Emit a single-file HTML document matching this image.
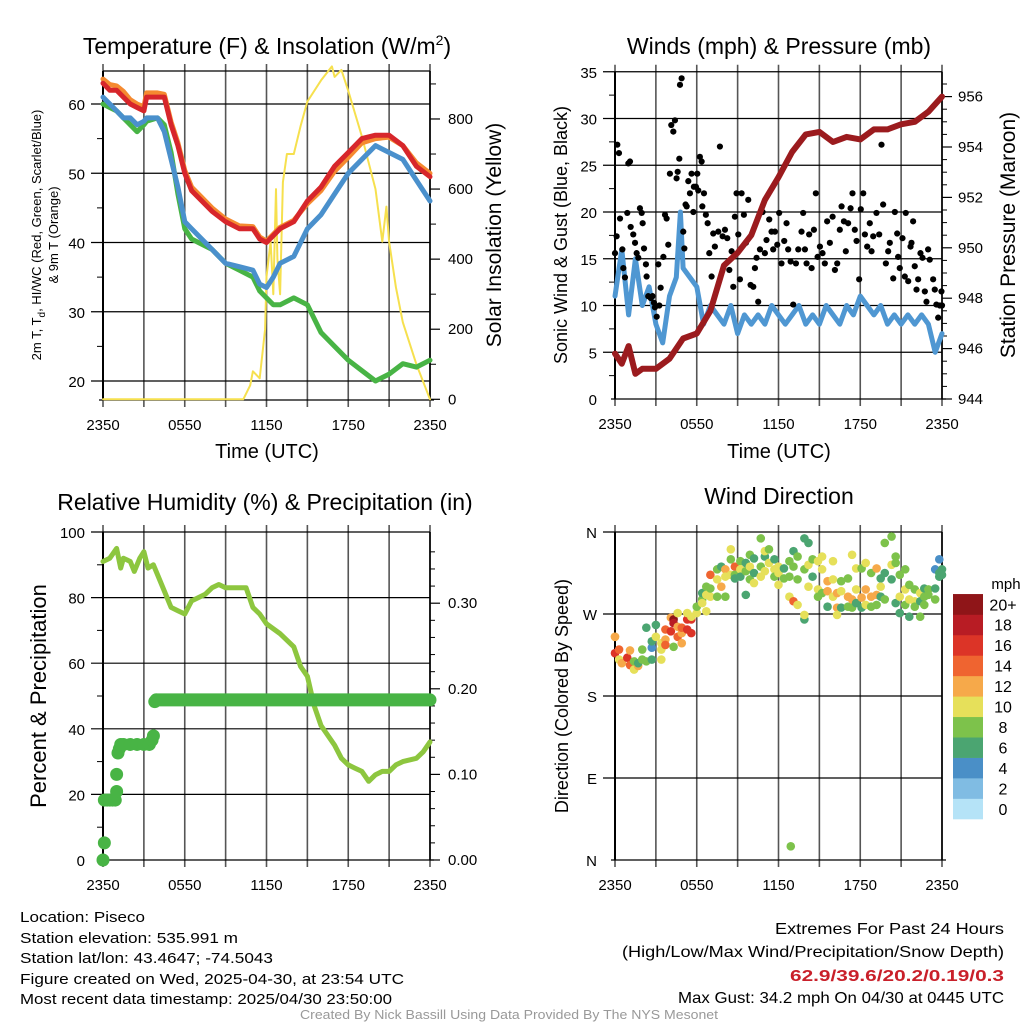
<!DOCTYPE html>
<html><head><meta charset="utf-8"><style>
html,body{margin:0;padding:0;background:#fff}
svg{display:block;font-family:"Liberation Sans",Arial,sans-serif}
</style></head><body>
<svg id="fig" width="1024" height="1024" viewBox="0 0 1024 1024" xmlns="http://www.w3.org/2000/svg">
<rect width="1024" height="1024" fill="#fff"/>
<g id="p1"></g>
<g id="p2"></g>
<g id="p3"></g>
<g id="p4"></g>
<g font-size="15" fill="#000">
<text x="20" y="922" textLength="125" lengthAdjust="spacingAndGlyphs">Location: Piseco</text>
<text x="20" y="943" textLength="218" lengthAdjust="spacingAndGlyphs">Station elevation: 535.991 m</text>
<text x="20" y="963" textLength="253" lengthAdjust="spacingAndGlyphs">Station lat/lon: 43.4647; -74.5043</text>
<text x="20" y="984" textLength="384" lengthAdjust="spacingAndGlyphs">Figure created on Wed, 2025-04-30, at 23:54 UTC</text>
<text x="20" y="1004" textLength="372" lengthAdjust="spacingAndGlyphs">Most recent data timestamp: 2025/04/30 23:50:00</text>
</g>
<g font-size="16" fill="#000">
<text x="775" y="934" textLength="229" lengthAdjust="spacingAndGlyphs">Extremes For Past 24 Hours</text>
<text x="622" y="957" textLength="382" lengthAdjust="spacingAndGlyphs">(High/Low/Max Wind/Precipitation/Snow Depth)</text>
<text x="790" y="981" textLength="214" lengthAdjust="spacingAndGlyphs" fill="#c9202a" font-weight="bold">62.9/39.6/20.2/0.19/0.3</text>
<text x="678" y="1003" textLength="326" lengthAdjust="spacingAndGlyphs">Max Gust: 34.2 mph On 04/30 at 0445 UTC</text>
</g>
<text x="300" y="1019" font-size="13" fill="#999" textLength="418" lengthAdjust="spacingAndGlyphs">Created By Nick Bassill Using Data Provided By The NYS Mesonet</text>
</svg>
<script>
// ---------- DATA ----------
const xTickLabels=["2350","0550","1150","1750","2350"];
// Temperature panel (hours since 2350)
const tHours=[0,0.5,1,1.5,2,2.5,3,3.2,4,4.5,5,5.5,6,6.5,7,8,9,10,11,11.5,12,12.5,13,14,15,16,17,18,19,20,21,22,23,24];
const tempRed=[63,62,62,61,60,59.5,59,61,61,61,57,54,50,47.5,46.5,44.5,43,42,42,40.5,40,41,42,43,46,48,51,53,55,55.5,55.5,54,51,49.5];
const tempOrange=[63.6,62.8,62.6,61.8,60.6,60,59.6,61.6,61.6,61.4,57.4,54.4,50.4,48,47,45,43.4,42.4,42.3,40.8,40.2,41.2,42.2,43.2,45.6,47.5,50.3,52.3,54.4,55,55.2,54,51.5,50];
const tempBlue=[61,60,59,58,58,57,57.5,58,58,56,52,48,43,42,41,39,37,36.5,36,34,33.5,35,37,38,42,44,47,50,52,54,53,52,49,46];
const dewGreen=[60,59.5,59,58,57,56,57,57.5,58,57,53,47,42,40.5,40,39,37,36,35,33,32,31,31,32,31,27,25,23,21.5,20,21,22.5,22,23];
const solarHours=[0,10.3,10.8,11,11.5,11.9,12,12.3,12.5,12.7,12.8,13,13.2,13.5,14,14.5,15,16,16.8,17,17.5,18,19,20,20.5,20.8,21,21.5,22,23,24];
const solar=[0,0,40,80,60,200,350,450,300,600,400,300,620,700,700,780,850,910,950,920,940,880,750,600,450,550,450,320,220,100,0];
// Winds panel
const windHours=[0,0.5,1,1.5,2,2.5,3,3.5,4,4.5,4.8,5,5.5,6,6.5,7,7.5,8,8.5,9,9.5,10,10.5,11,11.5,12,12.5,13,13.5,14,14.5,15,15.5,16,16.5,17,17.5,18,18.5,19,19.5,20,20.5,21,21.5,22,22.5,23,23.5,24];
const windSpeed=[11,16,9,15,10,12,8,6,11,13,20,14,13,12,8,10,9,8,10,7,9,8,9,8,10,9,8,9,10,8,9,8,10,9,8,10,9,11,10,9,10,8,9,8,9,8,9,8,5,7];
const gustHours=[0,0.17,0.29,0.37,0.12,0.54,0.61,0.73,0.9,0.98,1.1,1.15,1.34,1.47,1.59,1.71,1.83,1.96,2.03,2.13,2.27,2.32,2.44,2.62,2.76,2.86,2.93,3.06,3.18,3.25,3.35,3.55,3.67,3.79,3.91,4.03,4.13,4.28,4.4,4.52,4.6,4.72,4.77,4.89,5.01,5.09,5.18,5.26,5.38,5.5,5.62,5.75,5.79,5.94,6.04,6.11,6.23,6.36,6.41,6.53,6.67,6.8,6.92,7.09,7.21,7.33,7.58,7.7,7.9,8.07,8.24,8.39,8.56,8.68,8.8,8.92,9.05,9.17,9.29,9.46,9.61,9.78,9.95,10.15,10.27,10.39,10.51,10.64,10.83,11.0,11.12,11.32,11.49,11.61,11.74,11.91,12.05,12.22,12.42,12.59,12.71,12.89,13.08,13.28,13.45,13.69,13.81,13.94,14.06,14.25,14.43,14.6,14.74,14.87,15.04,15.23,15.4,15.57,15.77,15.97,16.14,16.31,16.5,16.63,16.8,16.94,17.11,17.29,17.43,17.6,17.73,17.92,18.04,18.22,18.34,18.51,18.7,18.83,18.95,19.19,19.39,19.56,19.68,19.88,20.05,20.17,20.42,20.54,20.71,20.78,20.9,21.1,21.27,21.34,21.52,21.69,21.76,21.88,22.0,22.13,22.25,22.42,22.57,22.74,22.86,22.98,23.1,23.35,23.47,23.59,23.72,23.84,23.96,24];
const gustSpeed=[15.6,27.2,26.3,19.3,17.4,16,14,13,19.9,25.2,25.4,18.4,17.6,16.7,15.6,15.1,20.4,19.9,18.8,16.1,14.4,13.1,11,10.8,11,10.3,9.8,8.8,14.4,10,11.9,15.2,19.7,19.3,16.5,24.1,29.3,28.6,29.8,23.6,24.3,25.7,33.6,34.3,17.9,16.1,20.8,20.6,23.3,22,24.1,20,22.7,22.7,24.1,22.3,25.9,25.4,20.6,22,19.7,18.8,15.6,13.1,17.7,16.3,17.9,27,17.4,18.1,17.2,13.8,15.8,12,19.5,22,17.6,12.8,22,19.7,16.7,21.3,12.2,12,14,15.1,10.4,16,20,15.6,17,19.2,17.9,16,17.9,16.5,19.9,14.5,16.9,18.8,16,14.7,10.1,14.5,16,17.9,19.9,16,14.5,17.6,14,18.1,22,15.2,16.3,15.6,14.5,19,16.7,19.5,13.8,14.5,18.1,20.6,19,15.8,18.8,20.4,22,18.1,16.9,12.8,20.3,22,17.6,16.3,18.8,15.8,17.4,19.9,17.6,27.2,20.8,14.5,15.8,16.7,12.9,20,17.7,15.2,14,17.2,13.1,19.9,12.6,16.3,16.7,19,14.2,11.7,12.8,15.6,15.1,11.5,10.4,16,14.9,12.8,11.7,10.1,8.7,10,11.5,10];
const presHours=[0,0.5,1,1.5,2,3,4,5,6,7,8,9,10,11,12,13,14,15,16,17,18,19,20,21,22,23,24];
const pressure=[945.8,945.4,946.1,945.0,945.2,945.2,945.6,946.4,946.6,947.5,949.3,949.8,950.5,951.9,952.8,953.8,954.5,954.6,954.2,954.4,954.3,954.7,954.7,954.9,955.0,955.4,956.0];
// Humidity & precip panel
const rhHours=[0,0.5,1,1.3,1.5,2,2.3,2.7,3,3.3,3.7,4,4.5,5,5.5,6,6.5,7,7.5,8,8.5,9,9.5,10,10.5,11,11.5,12,13,14,14.5,15,15.5,16,17,17.5,18,18.5,19,19.5,20,20.5,21,21.5,22,23,23.5,24];
const rh=[91,92,95,89,92,91,88,92,94,89,90,87,82,77,76,75,79,80,81,83,84,83,83,83,83,77,75,72,69,65,59,56,47,41,35,31,29,28,27,24,26,27,27,29,30,31,33,36];
const precipHours=[0,0.1,0.1,0.3,0.5,0.7,0.9,1.0,1.0,1.1,1.2,1.3,1.5,2,2.5,3,3.4,3.6,3.7,3.8,3.9];
const precip=[0,0.02,0.07,0.07,0.07,0.07,0.07,0.08,0.1,0.125,0.13,0.135,0.135,0.135,0.135,0.135,0.135,0.14,0.145,0.185,0.187];
const precipFlatEnd=0.187;
// Wind direction panel
const dirHours=[0,0,0,0.3,0.3,0.5,0.9,1.1,1.1,1.4,1.4,1.7,1.7,2.0,2.0,2.3,2.3,2.7,2.7,2.7,3.0,3.0,3.4,3.4,3.4,3.7,3.7,3.7,4.1,4.1,4.3,4.3,4.3,4.6,4.6,4.6,4.9,4.9,4.9,5.3,5.3,5.3,5.6,5.6,5.6,6.0,6.0,6.4,6.4,6.4,6.7,6.7,6.7,7.0,7.0,7.0,7.5,7.5,7.5,7.8,7.8,8.1,8.1,8.1,8.5,8.5,8.5,8.8,8.8,8.8,9.2,9.2,9.2,9.6,9.6,9.6,9.9,9.9,9.9,10.2,10.2,10.2,10.7,10.7,10.7,11.0,11.0,11.0,11.3,11.3,11.7,11.7,11.7,12.0,12.0,12.0,12.4,12.4,12.9,12.8,12.8,12.8,13.1,13.1,13.1,13.4,13.4,13.4,13.9,13.9,13.9,13.9,14.2,14.2,14.2,14.5,14.5,14.9,14.9,14.9,15.2,15.2,15.2,15.6,15.6,15.6,16.0,16.0,16.0,16.3,16.3,16.3,16.6,16.6,16.6,17.1,17.1,17.1,17.4,17.4,17.4,17.7,17.7,17.7,18.1,18.1,18.1,18.4,18.4,18.4,18.8,18.8,18.8,19.2,19.2,19.2,19.5,19.5,19.5,19.8,19.8,19.8,20.3,20.3,20.3,20.6,20.6,20.6,20.9,20.9,20.9,21.3,21.3,21.3,21.6,21.6,21.6,22.0,22.0,22.0,22.4,22.4,22.4,22.7,22.7,22.7,23.0,23.0,23.5,23.5,23.5,23.8,23.8,23.8,24.0,24.0];
const dirDeg=[245,227,245,220,231,216,222,214,230,209,218,213,216,231,220,218,255,233,240,220,258,245,238,231,220,253,242,236,266,251,264,260,234,271,256,245,249,255,238,264,253,271,264,249,267,271,278,286,293,282,300,291,273,313,289,298,319,308,289,322,300,319,311,289,341,330,313,322,313,309,328,319,311,317,326,291,335,322,308,331,315,304,353,322,311,333,317,339,341,326,330,319,311,322,315,302,320,309,15,328,311,289,339,322,284,333,308,280,353,319,264,269,348,324,300,330,311,297,289,328,333,319,293,306,295,278,328,308,289,293,277,269,306,295,277,309,289,278,335,286,277,320,297,282,320,288,277,326,297,280,315,289,278,320,291,280,309,300,289,348,315,286,355,324,308,333,326,282,313,289,271,319,297,280,302,286,267,297,284,278,293,284,267,298,289,280,297,291,298,286,319,330,315,311,319,313];
const dirSpeed=[10,16,12,10,14,12,16,14,12,10,8,12,6,8,8,8,6,4,6,6,6,10,10,10,10,14,12,14,12,16,20,18,8,10,12,14,12,14,12,16,16,10,16,16,10,10,8,8,6,10,8,10,10,14,10,8,8,10,8,6,12,12,10,8,10,8,10,14,8,6,8,10,6,8,6,6,8,10,8,6,6,10,8,8,10,6,10,10,8,10,6,10,8,10,10,10,6,8,8,8,8,10,6,8,14,8,8,10,6,8,6,10,6,10,10,8,6,10,8,10,10,10,8,12,12,6,10,10,10,12,12,10,8,10,6,8,12,8,10,12,8,10,10,6,8,12,6,10,12,10,8,12,8,12,12,8,6,10,6,8,6,8,8,10,6,8,8,6,8,10,6,8,10,8,8,10,6,8,10,8,10,6,8,6,8,8,8,8,6,8,4,4,6,6,6,6];
const cbLabels=["0","2","4","6","8","10","12","14","16","18","20+"];
const cbColors=["#b5e3f7","#80bce3","#4a8fc7","#4ba571","#7dc24b","#e6e05a","#f6a94a","#ef6430","#dc3427","#b81c24","#8f1518"];

// ---------- HELPERS ----------
const NS="http://www.w3.org/2000/svg";
function mk(parent,tag,attrs,name){
  const el=document.createElementNS(NS,tag);
  for(const k in attrs) el.setAttribute(k,attrs[k]);
  
  
  parent.appendChild(el);return el;
}
function txt(parent,x,y,s,size,name,anchor,rot,extra){
  const a={x:x,y:y,'font-size':size,'text-anchor':anchor||'middle',fill:'#000'};
  if(rot) a.transform=`rotate(-90 ${x} ${y})`;
  if(extra) Object.assign(a,extra);
  const t=mk(parent,'text',a,name);t.textContent=s;return t;
}
const X0L=103, X0R=615, XW=327;
function xScale(x0){return h=>x0+h*XW/24;}
function drawFrame(g,x0,yTop,yBot,gridYs,name){
  const xs=xScale(x0);
  for(let i=0;i<=8;i++){
    const x=xs(i*3);
    mk(g,'line',{x1:x,x2:x,y1:yTop-7,y2:yBot+7,stroke:'#555','stroke-width':1.6},'x-gridline');
  }
  gridYs.forEach(y=>{mk(g,'line',{x1:x0-12,x2:x0+XW,y1:y,y2:y,stroke:'#000','stroke-width':1.2},'y-gridline');});
  mk(g,'line',{x1:x0,x2:x0,y1:yTop,y2:yBot,stroke:'#000','stroke-width':2},'left-axis-line');
  mk(g,'line',{x1:x0+XW,x2:x0+XW,y1:yTop,y2:yBot,stroke:'#000','stroke-width':1.6},'right-axis-line');
  mk(g,'line',{x1:x0-4,x2:x0+XW+4,y1:yBot,y2:yBot,stroke:'#000','stroke-width':1.2},'bottom-axis-line');
  xTickLabels.forEach((s,i)=>{txt(g,xs(i*6),yBot+30,s,15,'x-tick-label');});
}
function polyline(g,xsF,ysF,hs,vs,color,w,name){
  const pts=hs.map((h,i)=>xsF(h).toFixed(1)+','+ysF(vs[i]).toFixed(1)).join(' ');
  return mk(g,'polyline',{points:pts,fill:'none',stroke:color,'stroke-width':w,'stroke-linejoin':'round','stroke-linecap':'round'},name);
}

// ---------- PANEL 1 ----------
(function(){
  const g=document.getElementById('p1');
  const yT=71,yB=400;
  const ty=v=>381-(v-20)*6.925;
  const sy=v=>399.3-v*0.3504;
  const xs=xScale(X0L);
  drawFrame(g,X0L,yT,yB,[60,50,40,30,20].map(ty),'temp-frame');
  mk(g,'line',{x1:X0L,x2:X0L+XW,y1:yT,y2:yT,stroke:'#000','stroke-width':1.2},'top-axis-line');
  [60,50,40,30,20].forEach(v=>txt(g,X0L-18,ty(v)+6,String(v),15,'y-tick-label','end'));
  [25,35,45,55].forEach(v=>mk(g,'line',{x1:X0L-6,x2:X0L,y1:ty(v),y2:ty(v),stroke:'#000'},'y-minor-tick'));
  [0,200,400,600,800].forEach(v=>{mk(g,'line',{x1:X0L+XW,x2:X0L+XW+10,y1:sy(v),y2:sy(v),stroke:'#000','stroke-width':1.2},'right-tick');txt(g,X0L+XW+18,sy(v)+5,String(v),15,'right-tick-label','start');});
  [100,300,500,700,900].forEach(v=>mk(g,'line',{x1:X0L+XW,x2:X0L+XW+6,y1:sy(v),y2:sy(v),stroke:'#000'},'right-minor-tick'));
  polyline(g,xs,sy,solarHours,solar,'#f6e04e',2,'solar-line');
  polyline(g,xs,ty,tHours,dewGreen,'#48b445',5,'dewpoint-line');
  polyline(g,xs,ty,tHours,tempBlue,'#4a90cc',5,'windchill-line');
  polyline(g,xs,ty,tHours,tempOrange,'#f58a30',5,'temp-9m-line');
  polyline(g,xs,ty,tHours,tempRed,'#d7262b',5,'temp-2m-line');
  const t=txt(g,267,54,'',23,'chart-title');
  t.innerHTML='Temperature (F) &amp; Insolation (W/m<tspan dy="-9" font-size="14">2</tspan><tspan dy="9">)</tspan>';
  txt(g,267,458,'Time (UTC)',20,'x-axis-title');
  const l1=txt(g,41,235,'',13,'y-axis-title-left','middle',true);
  l1.innerHTML='2m T, T<tspan dy="4" font-size="10">d</tspan><tspan dy="-4">, HI/WC (Red, Green, Scarlet/Blue)</tspan>';
  txt(g,58,235,'& 9m T (Orange)',13,'y-axis-title-left-2','middle',true);
  txt(g,501,235,'Solar Insolation (Yellow)',21,'y-axis-title-right','middle',true);
})();

// ---------- PANEL 2 ----------
(function(){
  const g=document.getElementById('p2');
  const yT=71.7,yB=399;
  const wy=v=>399-v*9.35;
  const py=p=>399-(p-944)*25.2;
  const xs=xScale(X0R);
  drawFrame(g,X0R,yT,yB,[35,30,25,20,15,10,5].map(wy),'wind-frame');
  [0,5,10,15,20,25,30,35].forEach(v=>txt(g,X0R-18,wy(v)+6,String(v),15,'y-tick-label','end'));
  [2.5,7.5,12.5,17.5,22.5,27.5,32.5].forEach(v=>mk(g,'line',{x1:X0R-6,x2:X0R,y1:wy(v),y2:wy(v),stroke:'#000'},'y-minor-tick'));
  [944,946,948,950,952,954,956].forEach(v=>{mk(g,'line',{x1:X0R+XW,x2:X0R+XW+10,y1:py(v),y2:py(v),stroke:'#000','stroke-width':1.2},'right-tick');txt(g,X0R+XW+16,py(v)+5,String(v),15,'right-tick-label','start');});
  [944.5,945,945.5,946.5,947,947.5,948.5,949,949.5,950.5,951,951.5,952.5,953,953.5,954.5,955,955.5,956.5].forEach(v=>mk(g,'line',{x1:X0R+XW,x2:X0R+XW+5,y1:py(v),y2:py(v),stroke:'#000'},'right-minor-tick'));
  polyline(g,xs,wy,windHours,windSpeed,'#4f97d2',5,'wind-speed-line');
  gustHours.forEach((h,i)=>{
    mk(g,'circle',{cx:xs(h),cy:wy(gustSpeed[i]),r:3.1,fill:'#000'},'gust-point');
  });
  polyline(g,xs,py,presHours,pressure,'#9b1b1e',6,'pressure-line');
  txt(g,779,54,'Winds (mph) & Pressure (mb)',23,'chart-title');
  txt(g,779,458,'Time (UTC)',20,'x-axis-title');
  txt(g,567,235,'Sonic Wind & Gust (Blue, Black)',18,'y-axis-title-left','middle',true);
  txt(g,1015,235,'Station Pressure (Maroon)',21,'y-axis-title-right','middle',true);
})();

// ---------- PANEL 3 ----------
(function(){
  const g=document.getElementById('p3');
  const yT=532,yB=860;
  const ry=v=>860-v*3.28;
  const qy=p=>860-p*856;
  const xs=xScale(X0L);
  drawFrame(g,X0L,yT,yB,[100,80,60,40,20].map(ry),'rh-frame');
  [0,20,40,60,80,100].forEach(v=>txt(g,X0L-18,ry(v)+6,String(v),15,'y-tick-label','end'));
  [10,30,50,70,90].forEach(v=>mk(g,'line',{x1:X0L-6,x2:X0L,y1:ry(v),y2:ry(v),stroke:'#000'},'y-minor-tick'));
  [0,0.1,0.2,0.3].forEach(v=>{mk(g,'line',{x1:X0L+XW,x2:X0L+XW+10,y1:qy(v),y2:qy(v),stroke:'#000','stroke-width':1.2},'right-tick');txt(g,X0L+XW+18,qy(v)+5,v.toFixed(2),15,'right-tick-label','start');});
  [0.02,0.04,0.06,0.08,0.12,0.14,0.16,0.18,0.22,0.24,0.26,0.28,0.32,0.34,0.36].forEach(v=>mk(g,'line',{x1:X0L+XW,x2:X0L+XW+5,y1:qy(v),y2:qy(v),stroke:'#000'},'right-minor-tick'));
  polyline(g,xs,ry,rhHours,rh,'#8dc63f',5,'rh-line');
  precipHours.forEach((h,i)=>{mk(g,'circle',{cx:xs(h),cy:qy(precip[i]),r:6.5,fill:'#48b445'},'precip-point');});
  mk(g,'line',{x1:xs(precipHours[precipHours.length-1]),x2:xs(24),y1:qy(precipFlatEnd),y2:qy(precipFlatEnd),stroke:'#48b445','stroke-width':13,'stroke-linecap':'round'},'precip-accum-line');
  txt(g,265,510,'Relative Humidity (%) & Precipitation (in)',23,'chart-title');
  txt(g,46,696,'Percent & Precipitation',22,'y-axis-title-left','middle',true);
})();

// ---------- PANEL 4 ----------
(function(){
  const g=document.getElementById('p4');
  const yT=532,yB=860;
  const dy=d=>860-d*328/360;
  const xs=xScale(X0R);
  drawFrame(g,X0R,yT,yB,[360,270,180,90].map(dy),'dir-frame');
  [['N',0],['E',90],['S',180],['W',270],['N',360]].forEach(p=>txt(g,X0R-18,dy(p[1])+6,p[0],15,'y-tick-label','end'));
  function col(s){if(typeof s!=='number')s=8;let i=Math.floor(s/2);if(i>10)i=10;if(i<0)i=0;return cbColors[i];}
  dirHours.forEach((h,i)=>{mk(g,'circle',{cx:xs(h),cy:dy(dirDeg[i]),r:4.3,fill:col(dirSpeed[i])},'direction-point');});
  txt(g,779,504,'Wind Direction',23,'chart-title');
  txt(g,568,696,'Direction (Colored By Speed)',18,'y-axis-title-left','middle',true);
  const cb=mk(g,'g',{},'colorbar');
  const bh=20.45;
  cbColors.forEach((c,i)=>{
    mk(cb,'rect',{x:953,y:819-(i+1)*bh,width:30,height:bh+0.3,fill:c},'colorbar-swatch');
    txt(cb,1003,819-i*bh-bh/2+6,cbLabels[i],16,'colorbar-label');
  });
  txt(cb,1006,589,'mph',15,'colorbar-title');
})();
</script>
</body></html>
